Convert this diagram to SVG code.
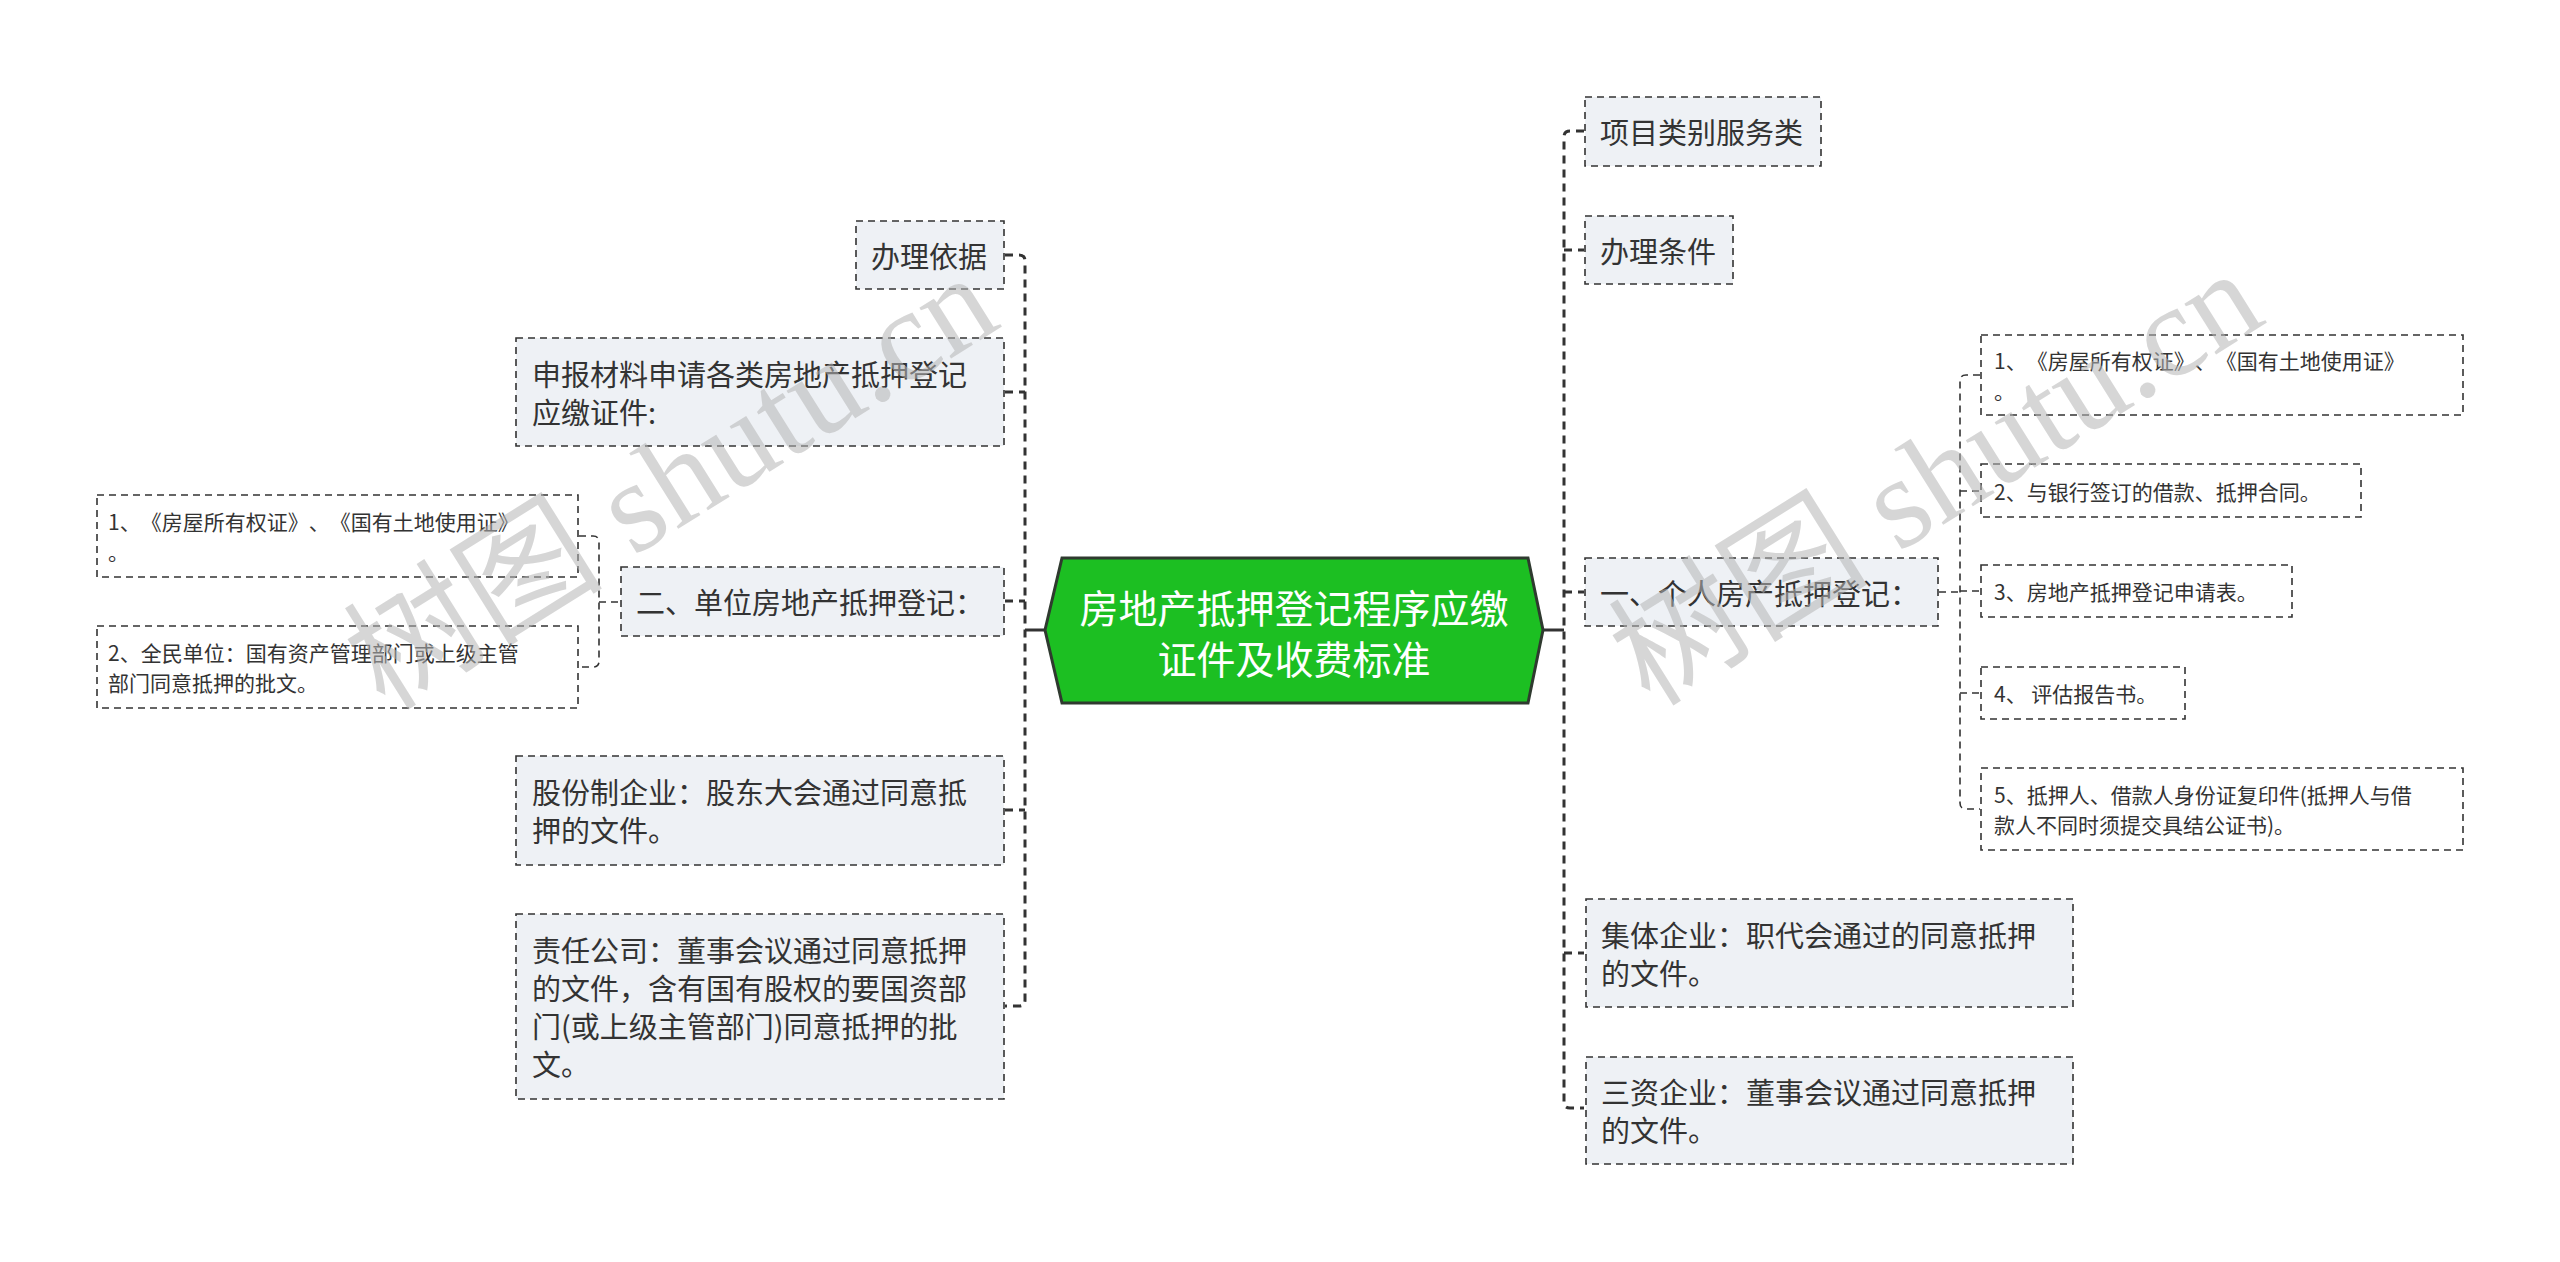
<svg xmlns="http://www.w3.org/2000/svg" width="2560" height="1262" viewBox="0 0 2560 1262">
<style>
.bg{fill:#ffffff}
.box{fill:#eef1f5;stroke:#333;stroke-width:1.6;stroke-dasharray:7 5}
.leaf{fill:#ffffff;stroke:#333;stroke-width:1.6;stroke-dasharray:7 5}
.t{font-family:"Noto Sans CJK SC","Microsoft YaHei",sans-serif;font-size:29px;fill:#333;dominant-baseline:central;text-spacing-trim:space-all}
.ts{font-family:"Noto Sans CJK SC","Microsoft YaHei",sans-serif;font-size:21px;fill:#333;dominant-baseline:central;text-spacing-trim:space-all}
.trunk{fill:none;stroke:#333;stroke-width:3;stroke-dasharray:8 6}
.sub{fill:none;stroke:#333;stroke-width:1.6;stroke-dasharray:7 5}
.solid{fill:none;stroke:#333;stroke-width:3}
.wm{font-family:"Liberation Serif","Noto Sans CJK SC",serif;font-size:130px;fill:#b4b4b4;fill-opacity:0.55}
</style>
<rect class="bg" x="0" y="0" width="2560" height="1262"/>

<g id="connectors">
  <!-- left main trunk -->
  <path class="solid" d="M1025,630 H1045"/>
  <path class="trunk" d="M1005,255 H1019 Q1025,255 1025,261 V1000 Q1025,1006 1019,1006 H1005"/>
  <path class="trunk" d="M1005,392 H1025"/>
  <path class="trunk" d="M1005,601 H1025"/>
  <path class="trunk" d="M1005,810 H1025"/>
  <!-- sub trunk 二 -->
  <path class="sub" d="M579,536 H593 Q599,536 599,542 V661 Q599,667 593,667 H579"/>
  <path class="sub" d="M599,602 H620"/>
  <!-- right main trunk -->
  <path class="solid" d="M1543,630 H1564"/>
  <path class="trunk" d="M1584,131 H1570 Q1564,131 1564,137 V1102 Q1564,1108 1570,1108 H1584"/>
  <path class="trunk" d="M1564,250 H1584"/>
  <path class="trunk" d="M1564,592 H1584"/>
  <path class="trunk" d="M1564,953 H1584"/>
  <!-- sub trunk 一 -->
  <path class="sub" d="M1939,592 H1960"/>
  <path class="sub" d="M1980,375 H1966 Q1960,375 1960,381 V803 Q1960,809 1966,809 H1980"/>
  <path class="sub" d="M1960,491 H1980"/>
  <path class="sub" d="M1960,591 H1980"/>
  <path class="sub" d="M1960,693 H1980"/>
</g>

<g id="root">
  <polygon points="1045,630 1062,558 1528,558 1543,630 1528,703 1062,703" fill="#1cbf22" stroke="#2f3a2f" stroke-width="3"/>
  <text x="1294" y="606" text-anchor="middle" style="font-family:'Noto Sans CJK SC','Microsoft YaHei',sans-serif;font-size:39px;fill:#ffffff;dominant-baseline:central">房地产抵押登记程序应缴</text>
  <text x="1294" y="657" text-anchor="middle" style="font-family:'Noto Sans CJK SC','Microsoft YaHei',sans-serif;font-size:39px;fill:#ffffff;dominant-baseline:central">证件及收费标准</text>
</g>

<g id="n-banliyiju">
  <rect class="box" x="856" y="221" width="148" height="68"/>
  <text class="t" x="871" y="255">办理依据</text>
</g>
<g id="n-shenbao">
  <rect class="box" x="516" y="338" width="488" height="108"/>
  <text class="t" x="532" y="373">申报材料申请各类房地产抵押登记</text>
  <text class="t" x="532" y="411">应缴证件:</text>
</g>
<g id="n-danwei">
  <rect class="box" x="621" y="567" width="383" height="69"/>
  <text class="t" x="636" y="601">二、单位房地产抵押登记：</text>
</g>
<g id="n-danwei-1">
  <rect class="leaf" x="97" y="495" width="481" height="82"/>
  <text class="ts" x="108" y="521">1、《房屋所有权证》、《国有土地使用证》</text>
  <text class="ts" x="108" y="551">。</text>
</g>
<g id="n-danwei-2">
  <rect class="leaf" x="97" y="626" width="481" height="82"/>
  <text class="ts" x="108" y="652">2、全民单位：国有资产管理部门或上级主管</text>
  <text class="ts" x="108" y="682">部门同意抵押的批文。</text>
</g>
<g id="n-gufen">
  <rect class="box" x="516" y="756" width="488" height="109"/>
  <text class="t" x="532" y="791">股份制企业：股东大会通过同意抵</text>
  <text class="t" x="532" y="829">押的文件。</text>
</g>
<g id="n-zeren">
  <rect class="box" x="516" y="914" width="488" height="185"/>
  <text class="t" x="532" y="949">责任公司：董事会议通过同意抵押</text>
  <text class="t" x="532" y="987">的文件，含有国有股权的要国资部</text>
  <text class="t" x="532" y="1025">门(或上级主管部门)同意抵押的批</text>
  <text class="t" x="532" y="1063">文。</text>
</g>

<g id="n-xiangmu">
  <rect class="box" x="1585" y="97" width="236" height="69"/>
  <text class="t" x="1600" y="131">项目类别服务类</text>
</g>
<g id="n-tiaojian">
  <rect class="box" x="1585" y="216" width="148" height="68"/>
  <text class="t" x="1600" y="250">办理条件</text>
</g>
<g id="n-geren">
  <rect class="box" x="1585" y="558" width="353" height="68"/>
  <text class="t" x="1600" y="592">一、个人房产抵押登记：</text>
</g>
<g id="n-geren-1">
  <rect class="leaf" x="1981" y="335" width="482" height="80"/>
  <text class="ts" x="1994" y="360">1、《房屋所有权证》、《国有土地使用证》</text>
  <text class="ts" x="1994" y="390">。</text>
</g>
<g id="n-geren-2">
  <rect class="leaf" x="1981" y="464" width="380" height="53"/>
  <text class="ts" x="1994" y="491">2、与银行签订的借款、抵押合同。</text>
</g>
<g id="n-geren-3">
  <rect class="leaf" x="1981" y="565" width="311" height="52"/>
  <text class="ts" x="1994" y="591">3、房地产抵押登记申请表。</text>
</g>
<g id="n-geren-4">
  <rect class="leaf" x="1981" y="667" width="204" height="52"/>
  <text class="ts" x="1994" y="693">4、 评估报告书。</text>
</g>
<g id="n-geren-5">
  <rect class="leaf" x="1981" y="768" width="482" height="82"/>
  <text class="ts" x="1994" y="794">5、抵押人、借款人身份证复印件(抵押人与借</text>
  <text class="ts" x="1994" y="824">款人不同时须提交具结公证书)。</text>
</g>
<g id="n-jiti">
  <rect class="box" x="1586" y="899" width="487" height="108"/>
  <text class="t" x="1601" y="934">集体企业：职代会通过的同意抵押</text>
  <text class="t" x="1601" y="972">的文件。</text>
</g>
<g id="n-sanzi">
  <rect class="box" x="1586" y="1057" width="487" height="107"/>
  <text class="t" x="1601" y="1091">三资企业：董事会议通过同意抵押</text>
  <text class="t" x="1601" y="1129">的文件。</text>
</g>

<g id="watermark">
  <text class="wm" transform="translate(385,712) rotate(-32)">树图 shutu.cn</text>
  <text class="wm" transform="translate(1650,708) rotate(-32)">树图 shutu.cn</text>
</g>
</svg>
